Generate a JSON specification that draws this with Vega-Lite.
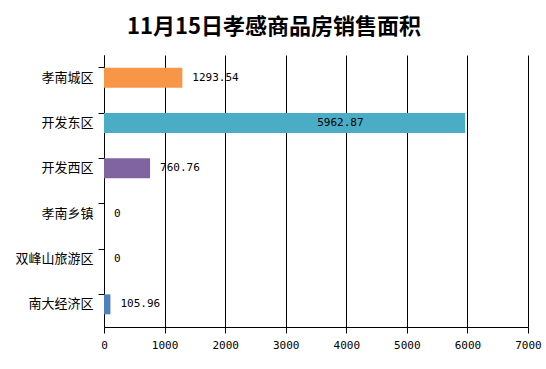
{
  "$schema": "https://vega.github.io/schema/vega-lite/v6.json",
  "autosize": "none",
  "width": 424,
  "height": 272,
  "padding": {"left": 104, "top": 55, "right": 18, "bottom": 42},
  "background": "white",
  "title": {
    "text": "11月15日孝感商品房销售面积",
    "font": "Noto Sans CJK SC",
    "fontSize": 22,
    "fontWeight": "bold",
    "color": "#000000",
    "anchor": "middle",
    "dx": -42,
    "offset": 16
  },
  "data": {
    "values": [
      {"area": "孝南城区", "value": 1293.54, "label": "1293.54"},
      {"area": "开发东区", "value": 5962.87, "label": "5962.87"},
      {"area": "开发西区", "value": 760.76, "label": "760.76"},
      {"area": "孝南乡镇", "value": 0, "label": "0"},
      {"area": "双峰山旅游区", "value": 0, "label": "0"},
      {"area": "南大经济区", "value": 105.96, "label": "105.96"}
    ]
  },
  "encoding": {
    "y": {
      "field": "area",
      "type": "nominal",
      "sort": null,
      "title": null,
      "scale": {"paddingInner": 0.56, "paddingOuter": 0.28},
      "axis": {
        "bandPosition": 0,
        "labelFont": "Noto Sans CJK SC",
        "labelFontSize": 13,
        "labelColor": "#000000",
        "labelPadding": 5,
        "tickSize": 6,
        "tickColor": "#000000",
        "domainColor": "#000000",
        "grid": false
      }
    },
    "x": {
      "field": "value",
      "type": "quantitative",
      "title": null,
      "scale": {"domain": [0, 7000], "nice": false},
      "axis": {
        "values": [0, 1000, 2000, 3000, 4000, 5000, 6000, 7000],
        "format": "d",
        "labelFont": "DejaVu Sans Mono",
        "labelFontSize": 11,
        "labelColor": "#000000",
        "labelPadding": 6,
        "tickSize": 6,
        "tickColor": "#000000",
        "domainColor": "#000000",
        "grid": true,
        "gridColor": "#000000",
        "gridOpacity": 1,
        "labelFlush": false
      }
    }
  },
  "layer": [
    {
      "mark": {"type": "bar"},
      "encoding": {
        "color": {
          "field": "area",
          "type": "nominal",
          "legend": null,
          "scale": {
            "domain": ["孝南城区", "开发东区", "开发西区", "孝南乡镇", "双峰山旅游区", "南大经济区"],
            "range": ["#F79646", "#4BACC6", "#8064A2", "#9BBB59", "#C0504D", "#4F81BD"]
          }
        }
      }
    },
    {
      "transform": [{"filter": "datum.value < 5000"}],
      "mark": {"type": "text", "align": "left", "baseline": "middle", "dx": 10, "font": "DejaVu Sans Mono", "fontSize": 11, "color": "#000000"},
      "encoding": {"text": {"field": "label"}}
    },
    {
      "transform": [{"filter": "datum.value >= 5000"}],
      "mark": {"type": "text", "align": "left", "baseline": "middle", "dx": -148, "font": "DejaVu Sans Mono", "fontSize": 11, "color": "#000000"},
      "encoding": {"text": {"field": "label"}}
    }
  ],
  "config": {"view": {"stroke": null}}
}
